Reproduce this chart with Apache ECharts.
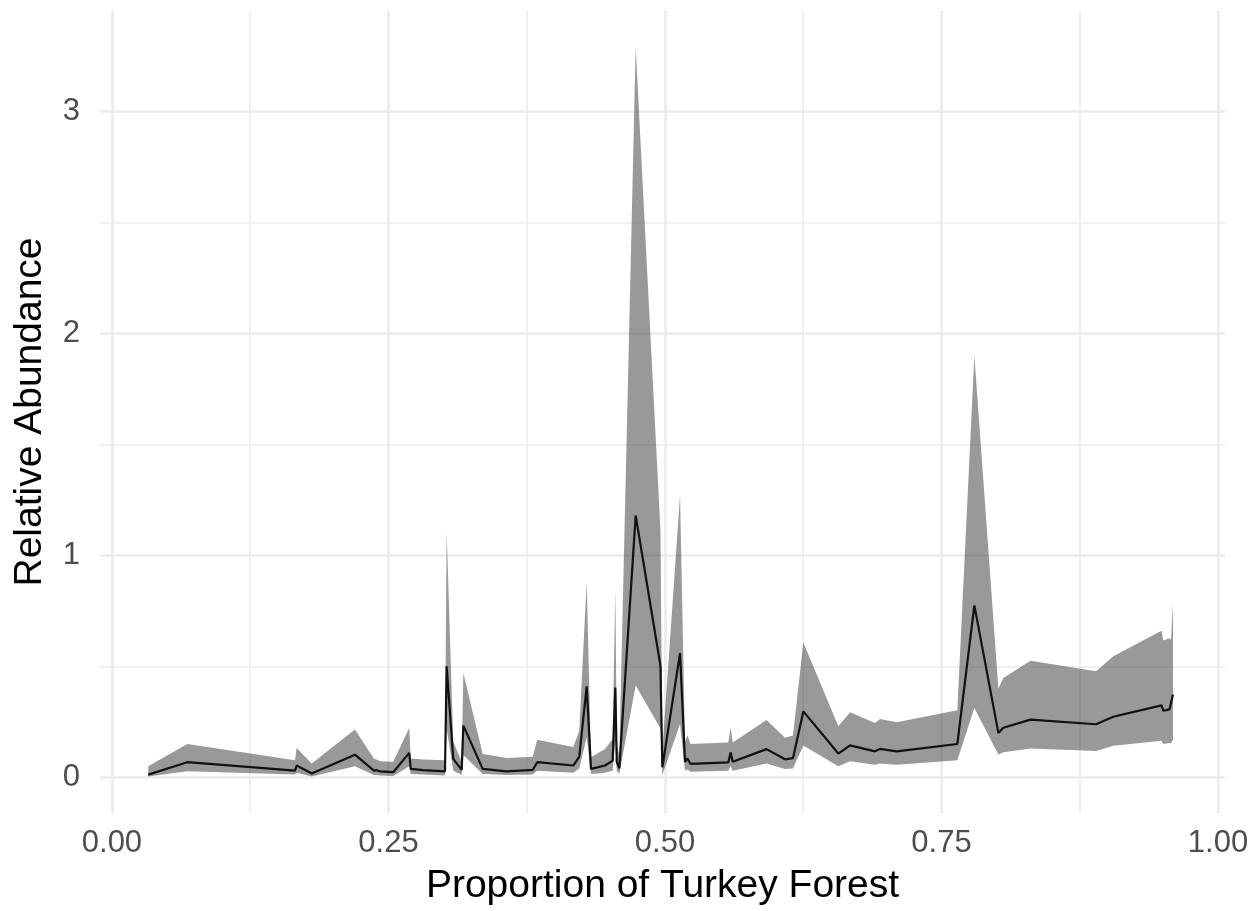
<!DOCTYPE html>
<html>
<head>
<meta charset="utf-8">
<script src="https://cdn.jsdelivr.net/npm/echarts@6/dist/echarts.min.js"></script>
<style>
  html, body { margin: 0; padding: 0; background: #ffffff; }
  #chart { width: 1260px; height: 911px; }
</style>
</head>
<body>
<div id="chart"></div>
<script>
// ---- data ----
const forestProportion = [0.0328, 0.0681, 0.1655, 0.1670, 0.1806, 0.2197, 0.2369, 0.2393, 0.2423, 0.2543,
  0.2688, 0.2701, 0.2815, 0.3011, 0.3026, 0.3086, 0.3162, 0.3177, 0.3352, 0.3569,
  0.3804, 0.3845, 0.4171, 0.4225, 0.4292, 0.4331, 0.4458, 0.4527, 0.4551, 0.4564,
  0.4587, 0.4735, 0.4959, 0.4976, 0.5136, 0.5181, 0.5203, 0.5231, 0.5572, 0.5594,
  0.5612, 0.5918, 0.6085, 0.6157, 0.6251, 0.6567, 0.6673, 0.6899, 0.6944, 0.7095,
  0.7643, 0.7797, 0.8014, 0.8059, 0.8305, 0.8897, 0.9053, 0.9489, 0.9505, 0.9561,
  0.9575, 0.9593];
const abundanceMean = [0.012, 0.068, 0.030, 0.053, 0.017, 0.102, 0.030, 0.032, 0.027, 0.023,
  0.110, 0.038, 0.032, 0.027, 0.500, 0.083, 0.033, 0.233, 0.038, 0.027,
  0.033, 0.068, 0.053, 0.093, 0.410, 0.038, 0.053, 0.075, 0.405, 0.068,
  0.040, 1.180, 0.503, 0.045, 0.560, 0.070, 0.085, 0.060, 0.067, 0.112,
  0.070, 0.127, 0.081, 0.086, 0.297, 0.107, 0.144, 0.117, 0.128, 0.117,
  0.150, 0.775, 0.200, 0.223, 0.260, 0.239, 0.273, 0.324, 0.300, 0.306,
  0.303, 0.373];
const abundanceLower = [0.003, 0.027, 0.012, 0.020, 0.004, 0.050, 0.010, 0.010, 0.008, 0.006,
  0.050, 0.015, 0.012, 0.008, 0.220, 0.030, 0.010, 0.100, 0.015, 0.010,
  0.012, 0.030, 0.020, 0.040, 0.180, 0.015, 0.020, 0.030, 0.170, 0.030,
  0.015, 0.415, 0.220, 0.010, 0.240, 0.030, 0.035, 0.025, 0.030, 0.050,
  0.030, 0.062, 0.037, 0.040, 0.143, 0.050, 0.072, 0.057, 0.062, 0.057,
  0.077, 0.312, 0.103, 0.113, 0.130, 0.119, 0.142, 0.165, 0.150, 0.154,
  0.153, 0.170];
const abundanceUpper = [0.050, 0.150, 0.077, 0.132, 0.062, 0.215, 0.083, 0.080, 0.072, 0.070,
  0.222, 0.085, 0.080, 0.077, 1.107, 0.160, 0.070, 0.470, 0.105, 0.087,
  0.093, 0.169, 0.136, 0.210, 0.880, 0.090, 0.128, 0.173, 0.850, 0.150,
  0.100, 3.290, 1.115, 0.120, 1.270, 0.160, 0.190, 0.150, 0.157, 0.224,
  0.157, 0.258, 0.178, 0.188, 0.608, 0.230, 0.293, 0.245, 0.263, 0.248,
  0.302, 1.900, 0.400, 0.447, 0.525, 0.478, 0.545, 0.661, 0.616, 0.627,
  0.620, 0.784];

// ---- ticks ----
const xMajorTicks = [0, 0.25, 0.5, 0.75, 1];
const xTickLabels = ['0.00', '0.25', '0.50', '0.75', '1.00'];
const xMinorTicks = [0.125, 0.375, 0.625, 0.875];
const yMajorTicks = [0, 1, 2, 3];
const yTickLabels = ['0', '1', '2', '3'];
const yMinorTicks = [0.5, 1.5, 2.5];

const X_MIN = -0.0108, X_MAX = 1.0063;
const Y_MIN = -0.161, Y_MAX = 3.454;

const bandData = forestProportion.map((x, i) => [x, abundanceLower[i], abundanceUpper[i]]);
const meanData = forestProportion.map((x, i) => [x, abundanceMean[i]]);

const FONT = 'Liberation Sans, Arial, Helvetica, sans-serif';
const gridMajor = { show: true, lineStyle: { color: '#ebebeb', width: 2.6 } };
const gridMinor = { show: true, lineStyle: { color: '#ebebeb', width: 1.6 } };

const chart = echarts.init(document.getElementById('chart'), null, { renderer: 'canvas' });
chart.setOption({
  animation: false,
  backgroundColor: '#ffffff',
  grid: { left: 100, right: 35, top: 11, bottom: 98, containLabel: false },
  xAxis: [
    {
      type: 'value', min: X_MIN, max: X_MAX, position: 'bottom',
      axisLine: { show: false },
      axisTick: { show: false, customValues: xMajorTicks },
      axisLabel: {
        customValues: xMajorTicks,
        formatter: v => xTickLabels[xMajorTicks.indexOf(v)] ?? '',
        color: '#4d4d4d', fontSize: 31, fontFamily: FONT, margin: 15, lineHeight: 31
      },
      splitLine: gridMajor,
      name: 'Proportion of Turkey Forest', nameLocation: 'middle', nameGap: 54,
      nameTextStyle: { color: '#000000', fontSize: 39, fontFamily: FONT, lineHeight: 39 }
    },
    {
      type: 'value', min: X_MIN, max: X_MAX, position: 'top',
      axisLine: { show: false },
      axisTick: { show: false, customValues: xMinorTicks },
      axisLabel: { show: false, customValues: xMinorTicks },
      splitLine: gridMinor
    }
  ],
  yAxis: [
    {
      type: 'value', min: Y_MIN, max: Y_MAX, position: 'left',
      axisLine: { show: false },
      axisTick: { show: false, customValues: yMajorTicks },
      axisLabel: {
        customValues: yMajorTicks,
        formatter: v => yTickLabels[yMajorTicks.indexOf(v)] ?? '',
        color: '#4d4d4d', fontSize: 31, fontFamily: FONT, margin: 20
      },
      splitLine: gridMajor,
      name: 'Relative Abundance', nameLocation: 'middle', nameGap: 50, nameRotate: 90,
      nameTextStyle: { color: '#000000', fontSize: 39, fontFamily: FONT, lineHeight: 39 }
    },
    {
      type: 'value', min: Y_MIN, max: Y_MAX, position: 'right',
      axisLine: { show: false },
      axisTick: { show: false, customValues: yMinorTicks },
      axisLabel: { show: false, customValues: yMinorTicks },
      splitLine: gridMinor
    }
  ],
  series: [
    {
      type: 'custom', name: 'band', data: bandData,
      xAxisIndex: 0, yAxisIndex: 0,
      encode: { x: 0, y: [1, 2] },
      silent: true, z: 2,
      renderItem: function (params, api) {
        if (params.dataIndex !== 0) return null;
        const pts = [];
        for (let i = 0; i < bandData.length; i++) {
          pts.push(api.coord([bandData[i][0], bandData[i][2]]));
        }
        for (let i = bandData.length - 1; i >= 0; i--) {
          pts.push(api.coord([bandData[i][0], bandData[i][1]]));
        }
        return {
          type: 'polygon',
          shape: { points: pts },
          style: { fill: 'rgba(51,51,51,0.5)', stroke: null }
        };
      }
    },
    {
      type: 'line', name: 'mean', data: meanData,
      xAxisIndex: 0, yAxisIndex: 0,
      symbol: 'none', lineStyle: { color: '#111111', width: 2.2 }, z: 3
    }
  ]
});
</script>
</body>
</html>
